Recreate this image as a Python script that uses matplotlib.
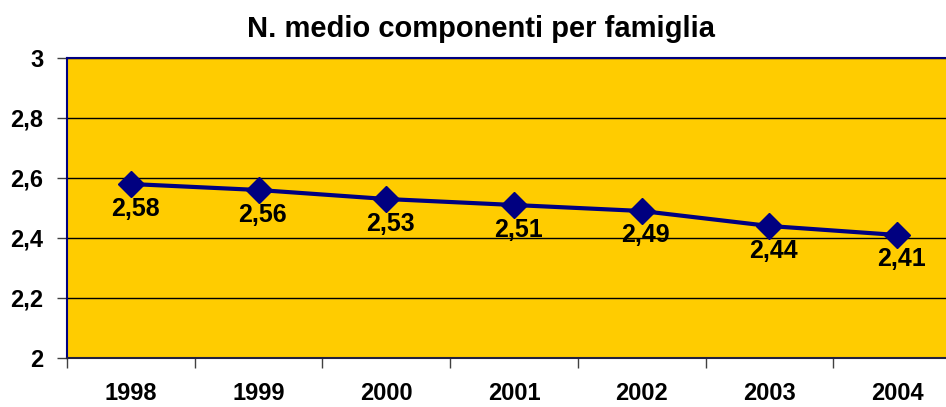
import matplotlib
matplotlib.use("Agg")
import matplotlib.pyplot as plt
from matplotlib.ticker import FixedLocator, FuncFormatter

years = ["1998", "1999", "2000", "2001", "2002", "2003", "2004"]
values = [2.58, 2.56, 2.53, 2.51, 2.49, 2.44, 2.41]
yticks = [2.0, 2.2, 2.4, 2.6, 2.8, 3.0]

plt.rcParams['font.family'] = ['Liberation Sans', 'DejaVu Sans']
plt.rcParams['font.weight'] = 'bold'

W, H = 946, 407
fig = plt.figure(figsize=(W / 100, H / 100), dpi=100)
left, right, top, bottom = 67, 961, 58, 358
ax = fig.add_axes([left / W, 1 - bottom / H, (right - left) / W, (bottom - top) / H])
ax.set_facecolor('#FFCC00')

x = list(range(len(years)))
ax.plot(x, values, color='#000080', lw=3, marker='D', markersize=13,
        markerfacecolor='#000080', markeredgecolor='#000080', zorder=3)
for xi, v in zip(x, values):
    ax.annotate(f"{v:.2f}".replace('.', ','), (xi, v), xytext=(3, -9),
                textcoords='offset points', ha='center', va='top',
                fontsize=18, fontweight='bold', color='black', zorder=4)

ax.set_xlim(-0.5, len(years) - 0.5)
ax.set_ylim(2, 3)
ax.set_yticks(yticks)
ax.yaxis.set_major_formatter(FuncFormatter(lambda v, p: (f"{v:g}").replace('.', ',')))
ax.set_xticks(x)
ax.set_xticklabels(years)
ax.xaxis.set_minor_locator(FixedLocator([i - 0.5 for i in range(len(years) + 1)]))
ax.tick_params(axis='x', which='major', length=0, pad=17, labelsize=17)
ax.tick_params(axis='x', which='minor', length=7, width=1, color='#404040', direction='out')
ax.tick_params(axis='y', length=7, width=1, color='#404040', direction='out', pad=10, labelsize=17)
for t in ax.get_xticklabels() + ax.get_yticklabels():
    t.set_fontweight('bold')
ax.grid(axis='y', color='black', lw=1)
ax.set_axisbelow(True)
for s in ['left', 'top', 'right']:
    ax.spines[s].set_color('#000080')
    ax.spines[s].set_linewidth(1.5)
ax.spines['bottom'].set_color('#202040')
ax.spines['bottom'].set_linewidth(1.5)

fig.text(481 / W, 1 - 29 / H, "N. medio componenti per famiglia", ha='center', va='center',
         fontsize=21, fontweight='bold')

fig.savefig('out.png', dpi=100)
